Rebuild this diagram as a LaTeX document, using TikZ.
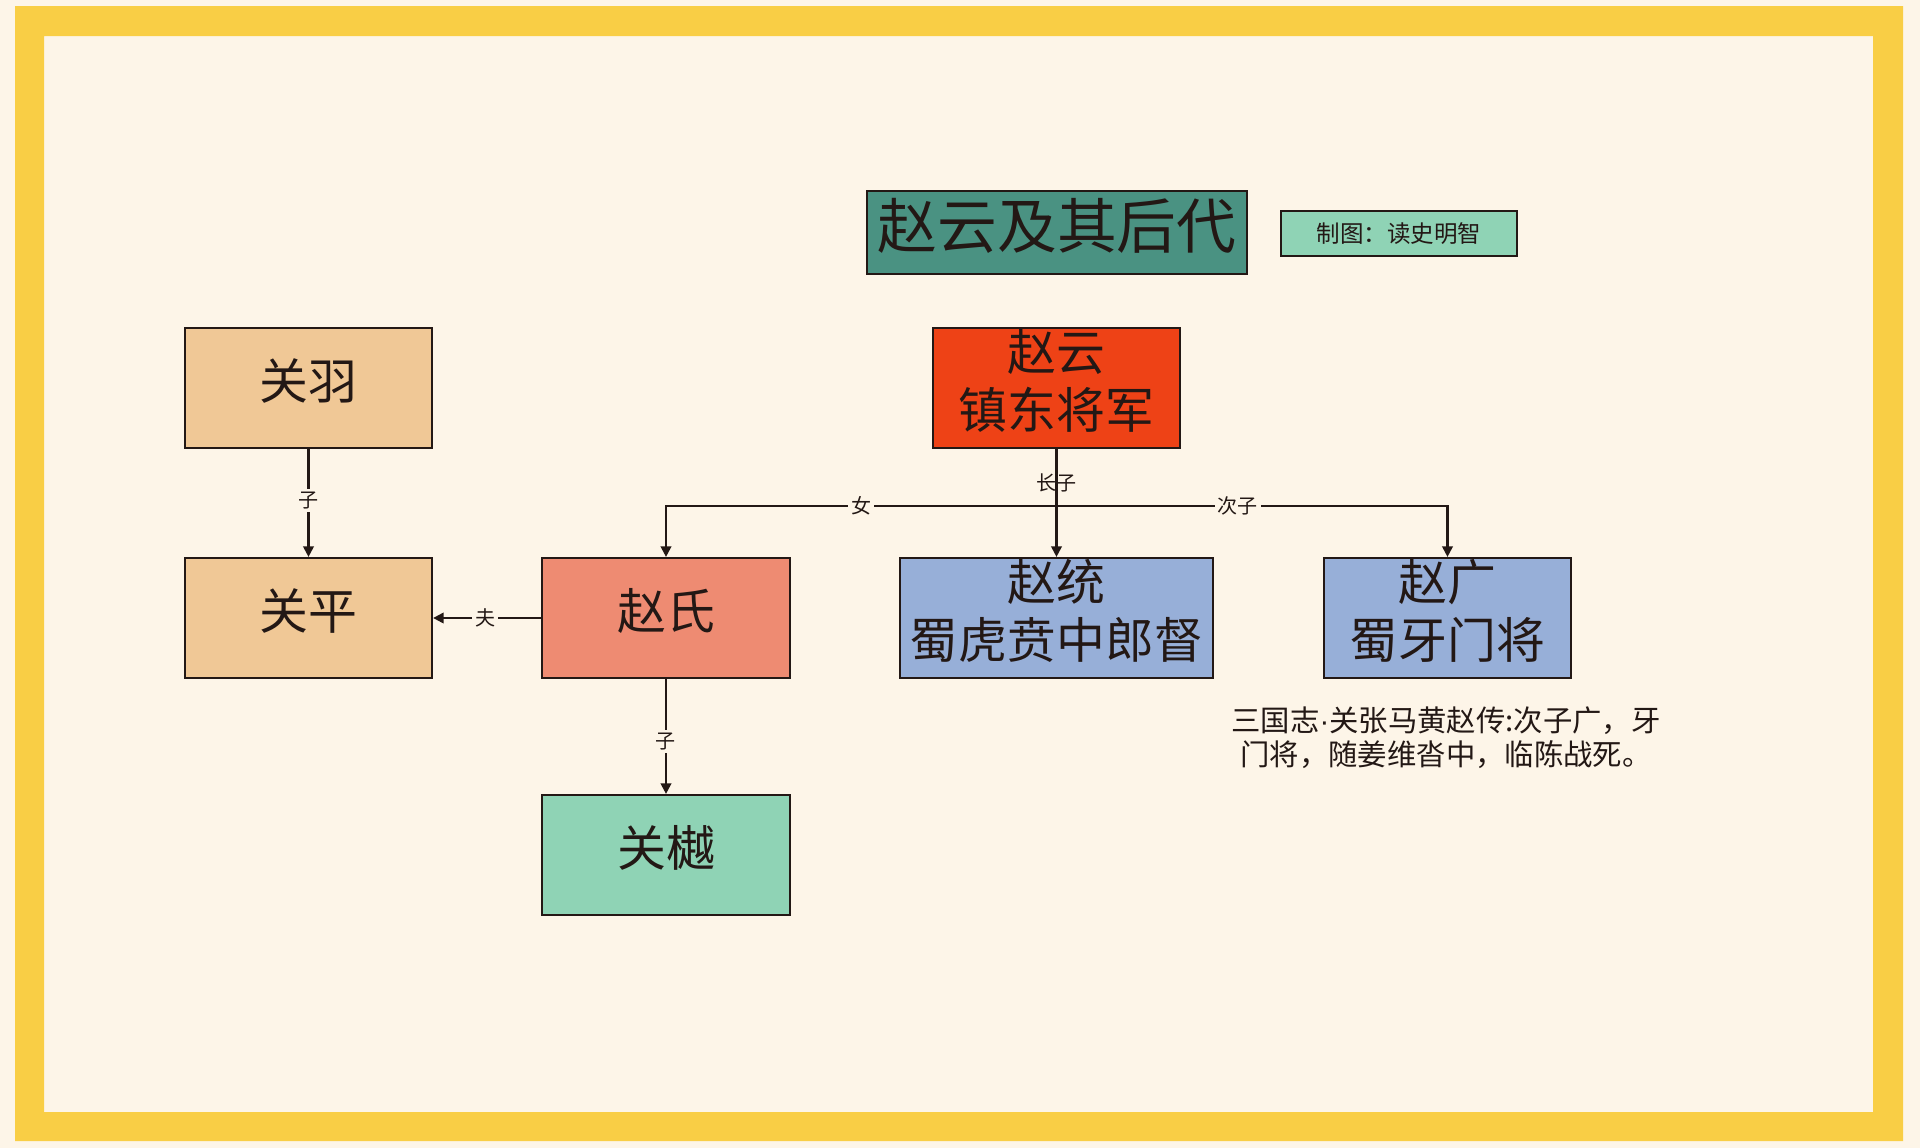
\documentclass[tikz,border=0pt]{standalone}
\usepackage{fontspec}
\setmainfont{Noto Sans CJK SC}
\newfontfamily\dotfont{Liberation Sans}
\usetikzlibrary{arrows.meta}
\definecolor{bgc}{HTML}{FDF5E8}
\definecolor{framec}{HTML}{F9CE45}
\definecolor{titlec}{HTML}{4A9282}
\definecolor{mintc}{HTML}{8FD3B5}
\definecolor{tanc}{HTML}{F0C896}
\definecolor{salmonc}{HTML}{EE8B72}
\definecolor{redc}{HTML}{EE4216}
\definecolor{bluec}{HTML}{97AFD8}
\definecolor{inkc}{HTML}{231815}
\newcommand\rbx[1]{\raisebox{2pt}[\height][\depth]{#1}}
\tikzset{
  box/.style={draw=inkc, line width=0.6pt, rectangle, inner sep=0pt, align=center, text=inkc,
    minimum width=2.47cm, minimum height=1.2cm, font=\fontsize{13.9}{16.4}\selectfont},
  conn/.style={draw=inkc, line width=0.6pt, -{Triangle[length=3pt,width=3pt]}},
  lbl/.style={fill=bgc, inner sep=0.8pt, text=inkc, font=\fontsize{5.7}{6.5}\selectfont},
  lblclear/.style={inner sep=0.8pt, text=inkc, font=\fontsize{5.7}{6.5}\selectfont}
}
\begin{document}
\begin{tikzpicture}[x=0.01cm,y=-0.01cm]
\useasboundingbox (0,0) rectangle (1920,1148);
\fill[bgc] (0,0) rectangle (1920,1148);
\fill[framec, even odd rule] (15,6) rectangle (1903,1141) (44,36) rectangle (1873,1112);

\node[box, fill=titlec, minimum width=3.8cm, minimum height=0.83cm, font=\fontsize{17}{20}\selectfont] (title) at (1057,232.5) {\rbx{赵云及其后代}};
\node[box, fill=mintc, minimum width=2.36cm, minimum height=0.45cm, font=\fontsize{6.7}{8}\selectfont] (credit) at (1399,233.5) {制图：读史明智};

\node[box, fill=tanc] (guanyu) at (308.5,388) {\rbx{关羽}};
\node[box, fill=tanc] (guanping) at (308.5,618) {\rbx{关平}};
\node[box, fill=salmonc] (zhaoshi) at (666,618) {\rbx{赵氏}};
\node[box, fill=mintc] (guanyue) at (666,855) {\rbx{关樾}};
\node[box, fill=redc] (zhaoyun) at (1056.5,388) {\rbx{赵云}\\\rbx{镇东将军}};
\node[box, fill=bluec, minimum width=3.13cm] (zhaotong) at (1056.5,618) {\rbx{赵统}\\\rbx{蜀虎贲中郎督}};
\node[box, fill=bluec] (zhaoguang) at (1447.5,618) {\rbx{赵广}\\\rbx{蜀牙门将}};

\node[text=inkc, align=center, font=\fontsize{8.35}{9.7}\selectfont] (note) at (1446,738) {三国志{\dotfont ·}关张马黄赵传:次子广，牙\\门将，随姜维沓中，临陈战死。};

\draw[conn] (guanyu.south) -- node[lbl, pos=0.48] {子} (guanping.north);
\draw[conn] (zhaoshi.west) -- node[lbl, pos=0.52] {夫} (guanping.east);
\draw[conn] (zhaoshi.south) -- node[lbl, pos=0.54] {子} (guanyue.north);
\draw[conn] (zhaoyun.south) -- ++(0,56.5) -| node[lbl, pos=0.25] {女} (zhaoshi.north);
\draw[conn] (zhaoyun.south) -- ++(0,56.5) -| node[lbl, pos=0.232] {次子} (zhaoguang.north);
\draw[conn] (zhaoyun.south) -- node[lblclear, pos=0.31] {长子} (zhaotong.north);
\end{tikzpicture}
\end{document}
